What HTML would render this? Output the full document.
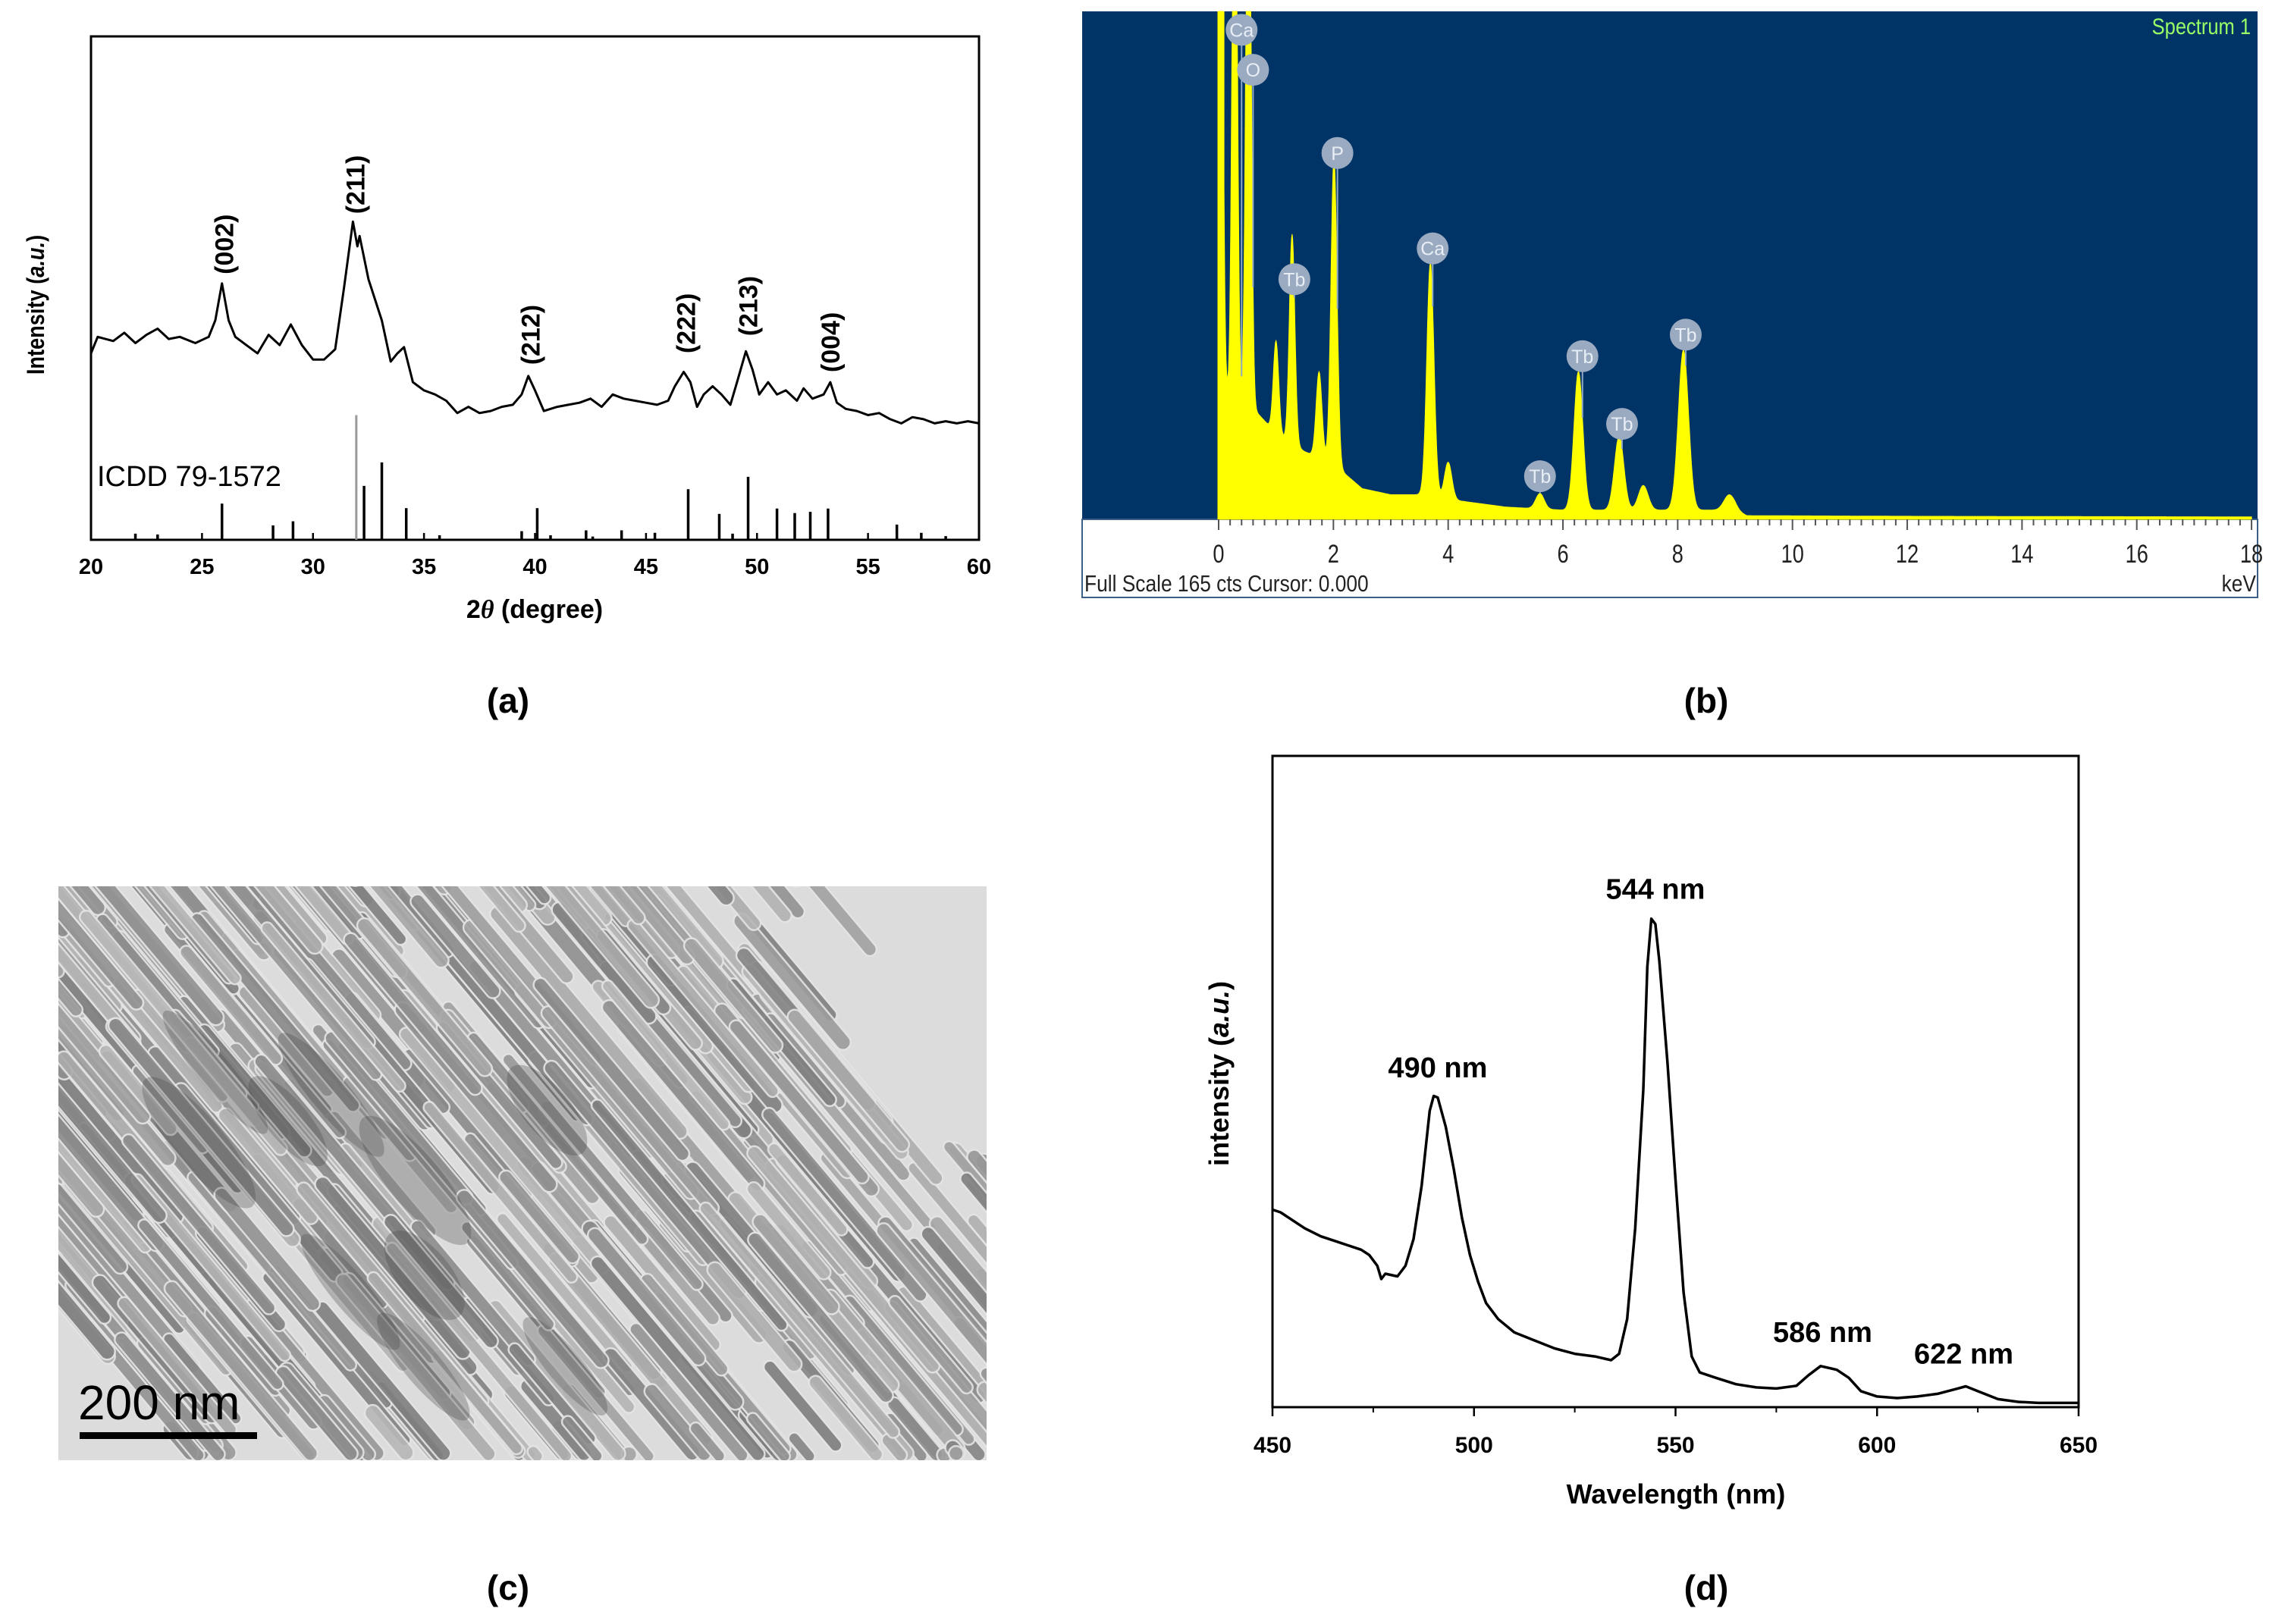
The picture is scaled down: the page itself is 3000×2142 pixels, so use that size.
<!DOCTYPE html>
<html><head><meta charset="utf-8">
<style>
html,body{margin:0;padding:0;background:#fff;overflow:hidden;width:3000px;height:2142px;}
svg{display:block;overflow:hidden;position:absolute;left:0;top:0;}
text{font-family:"Liberation Sans",Arial,sans-serif;}
</style></head>
<body>
<svg id="fig" width="3000" height="2142" viewBox="0 0 3000 2142" overflow="hidden" xmlns="http://www.w3.org/2000/svg">
<rect width="3000" height="2142" fill="#fff"/>
<g id="pa"></g>
<g id="pb"></g>
<g id="pc"></g>
<g id="pd"></g>
<text x="670" y="940" font-size="46" font-weight="bold" text-anchor="middle">(a)</text>
<text x="2250" y="940" font-size="46" font-weight="bold" text-anchor="middle">(b)</text>
<text x="670" y="2110" font-size="46" font-weight="bold" text-anchor="middle">(c)</text>
<text x="2250" y="2110" font-size="46" font-weight="bold" text-anchor="middle">(d)</text>
</svg>
<script>
// ---------- Panel (a) XRD data ----------
const xrdDeg = [20,20.3,21,21.5,22,22.5,23,23.5,24,24.7,25.3,25.6,25.9,26.2,26.5,27,27.5,28,28.5,29,29.5,30,30.5,31,31.4,31.8,32.0,32.1,32.5,32.8,33.1,33.5,33.8,34.1,34.5,35,35.5,36,36.5,37,37.5,38,38.5,39,39.4,39.7,40,40.4,41,41.5,42,42.5,43,43.5,44,44.5,45,45.5,46,46.3,46.7,47,47.3,47.6,48,48.4,48.8,49.1,49.5,49.8,50.1,50.5,50.9,51.3,51.8,52.1,52.5,53,53.3,53.6,54,54.5,55,55.5,56,56.5,57,57.5,58,58.5,59,59.5,60];
const xrdInt = [453,493,483,503,478,498,513,488,493,478,493,533,623,533,493,473,453,498,473,523,473,438,438,463,613,773,713,738,633,583,533,433,453,468,383,363,353,338,308,323,308,313,323,328,353,398,363,313,323,328,333,343,323,353,343,338,333,328,338,373,408,383,323,353,373,353,328,383,458,413,353,383,353,363,338,368,343,353,383,333,318,313,303,308,293,283,298,293,283,288,283,288,283];
const refDeg = [22,23,25.9,28.2,29.1,32.3,33.1,34.2,35.7,39.4,40.1,40.7,42.3,42.6,43.9,45.4,46.9,48.3,48.9,49.6,50.9,51.7,52.4,53.2,56.3,57.4,58.5];
const refInt = [15,13,88,35,45,131,188,77,11,21,77,11,23,8,23,17,123,63,15,153,76,65,68,76,37,17,9];
const refMainDeg = [31.95];
const refMainInt = [303];
const peakLabels = ["(002)","(211)","(212)","(222)","(213)","(004)"];
const peakLabelDeg = [26.0,31.9,39.8,46.8,49.6,53.3];
const peakLabelInt = [718,863,498,526,568,480];
const xrdTicks = [20,25,30,35,40,45,50,55,60];

// ---------- Panel (b) EDS data ----------
const edsPeakKeV = [0.03,0.28,0.52,1.0,1.28,1.75,2.01,3.69,4.0,5.6,6.27,6.98,7.4,8.1,8.9];
const edsPeakCts = [220,220,220,30,68,28,100,76,12,5,45,24,8,52,5];
const edsBgKeV = [0.1,0.6,1.0,1.5,2.0,2.5,3.0,3.5,4.2,5.0,6.0,7.0,8.0,9.0,9.2,12,18];
const edsBgCts = [42,36,28,22,18,10,8,8,6,4,3,3,3,3,1.2,1,0.8];
const edsLabels = ["Ca","O","P","Tb","Ca","Tb","Tb","Tb","Tb"];
const edsLabelKeV = [0.4,0.6,2.07,1.32,3.73,5.6,6.34,7.03,8.14];
const edsLabelCts = [159,146,119,78,88,14,53,31,60];
const edsTicks = [0,2,4,6,8,10,12,14,16,18];

// ---------- Panel (d) PL data ----------
const plNm = [450,452,455,458,462,466,470,472,474,476,477,478,481,483,485,487,489,490,491,493,495,497,499,501,503,506,510,515,520,525,530,534,536,538,540,542,543,544,545,546,548,550,552,554,556,560,565,570,575,580,583,586,590,593,596,600,605,610,615,620,622,625,630,635,640,650];
const plInt = [370,365,350,335,320,310,300,295,285,265,240,250,245,265,315,415,555,583,580,525,445,355,285,235,195,165,140,125,110,100,95,88,100,165,335,595,825,915,905,835,645,425,215,95,65,55,43,37,35,40,60,77,70,55,30,20,17,20,25,35,39,30,15,10,8,8];
const plLabels = ["544 nm","490 nm","586 nm","622 nm"];
const plLabelNm = [545,491,586.5,621.5];
const plLabelInt = [952,618,122,82];
const plTicks = [450,500,550,600,650];
const plMinor = [475,525,575,625];

const NS = "http://www.w3.org/2000/svg";
function mk(parent, tag, attrs, txt){
  const e = document.createElementNS(NS, tag);
  for (const k in attrs) e.setAttribute(k, attrs[k]);
  if (txt !== undefined) e.textContent = txt;
  parent.appendChild(e);
  return e;
}

// ===== Panel A =====
(function(){
  const g = document.getElementById('pa');
  const L=120,R=1291,T=48,B=712;
  const x = d => L + (d-20)/40*(R-L);
  const y = v => B - v/1223*(B-T);
  let el = mk(g,'rect',{x:L,y:T,width:R-L,height:B-T,fill:'none',stroke:'#000','stroke-width':3});
   
  xrdTicks.forEach(t=>{
    let tk = mk(g,'line',{x1:x(t),x2:x(t),y1:B,y2:B-9,stroke:'#000','stroke-width':2.5});
     
    let lb = mk(g,'text',{x:x(t),y:757,'font-size':29,'font-weight':'bold','text-anchor':'middle'},String(t));
     
  });
  let xt = mk(g,'text',{x:705,y:815,'font-size':34,'font-weight':'bold','text-anchor':'middle'});
   
  xt.innerHTML = '2<tspan font-style="italic" font-family="Liberation Serif">θ</tspan> (degree)';
  let yt = mk(g,'text',{x:0,y:0,'font-size':32,'font-weight':'bold','text-anchor':'middle',transform:'translate(58,402) rotate(-90) scale(0.85,1)'});
   
  yt.innerHTML = 'Intensity (<tspan font-style="italic">a.u.</tspan>)';
  let d = xrdDeg.map((v,i)=>(i?'L':'M')+x(v).toFixed(1)+' '+y(xrdInt[i]).toFixed(1)).join(' ');
  let ln = mk(g,'path',{d:d,fill:'none',stroke:'#000','stroke-width':3,'stroke-linejoin':'round'});
   
  refDeg.forEach((v,i)=>{
    let s = mk(g,'line',{x1:x(v),x2:x(v),y1:B,y2:y(refInt[i]),stroke:'#000','stroke-width':3.5});
     
  });
  refMainDeg.forEach((v,i)=>{
    let s = mk(g,'line',{x1:x(v),x2:x(v),y1:B,y2:y(refMainInt[i]),stroke:'#999','stroke-width':3});
     
  });
  let ic = mk(g,'text',{x:128,y:641,'font-size':38},'ICDD 79-1572');
   
  peakLabels.forEach((t,i)=>{
    let p = mk(g,'text',{x:0,y:0,'font-size':34,'text-anchor':'middle','font-weight':'bold',
      transform:`translate(${x(peakLabelDeg[i])+12},${y(peakLabelInt[i])}) rotate(-90)`},t);
     
  });
})();

// ===== Panel B =====
(function(){
  const g = document.getElementById('pb');
  const L=1427,R=2977,T=15,B=685;
  const x = k => 1607 + k*75.67;
  const y = c => B - c/165*(B-T);
  let bgr = mk(g,'rect',{x:L,y:T,width:R-L,height:B-T,fill:'#003366'});
   
  let wr = mk(g,'rect',{x:L,y:B,width:R-L,height:788-B,fill:'#fff',stroke:'#3b5f86','stroke-width':2});
   
  function bg(k){
    if (k<=edsBgKeV[0]) return edsBgCts[0];
    for (let i=1;i<edsBgKeV.length;i++){ if (k<=edsBgKeV[i]){const f=(k-edsBgKeV[i-1])/(edsBgKeV[i]-edsBgKeV[i-1]);return edsBgCts[i-1]+f*(edsBgCts[i]-edsBgCts[i-1]);} }
    return edsBgCts[edsBgCts.length-1];
  }
  function spec(k){
    let s = bg(k);
    edsPeakKeV.forEach((p,i)=>{const w=0.04+0.006*p; s+=edsPeakCts[i]*Math.exp(-((k-p)*(k-p))/(2*w*w));});
    return Math.min(s,170);
  }
  let pts = [`M${x(0)} ${B}`];
  for (let k=0;k<=18.0001;k+=0.01) pts.push(`L${x(k).toFixed(1)} ${Math.max(T,y(spec(k))).toFixed(1)}`);
  pts.push(`L${x(18)} ${B} Z`);
  let sp = mk(g,'path',{d:pts.join(' '),fill:'#ffff00',stroke:'#ffff00','stroke-width':1});
   
  [0,0.08].forEach(k=>{
    let vl = mk(g,'line',{x1:x(k),x2:x(k),y1:T,y2:B,stroke:'#ffff00','stroke-width':3});
     
  });
  edsLabels.forEach((t,i)=>{
    const cx=x(edsLabelKeV[i]), cy=y(edsLabelCts[i]);
    const pk = Math.max(T, y(spec(edsLabelKeV[i])));
    if (pk > cy+20){
      let st = mk(g,'line',{x1:cx,x2:cx,y1:cy+20,y2:pk,stroke:'#8fa8c8','stroke-width':2});
       
    }
    let c = mk(g,'circle',{cx:cx,cy:cy,r:21,fill:'#9aaac0'});
     
    let tx = mk(g,'text',{x:cx,y:cy+9,'font-size':25,'text-anchor':'middle',fill:'#e8eef5'},t);
     
  });
  for (let k=0;k<=18.001;k+=0.2){
    const major = Math.abs(k-Math.round(k/2)*2)<0.01;
    let mt = mk(g,'line',{x1:x(k),x2:x(k),y1:B,y2:B+(major?14:8),stroke:'#555','stroke-width':2});
     
  }
  edsTicks.forEach(t=>{
    let lb = mk(g,'text',{x:0,y:0,'font-size':34,'text-anchor':'middle',fill:'#222',transform:`translate(${x(t)},742) scale(0.8,1)`},String(t));
     
  });
  let fs = mk(g,'text',{x:0,y:0,'font-size':31,fill:'#222',transform:'translate(1430,780) scale(0.85,1)'},'Full Scale 165 cts Cursor: 0.000');
   
  let kv = mk(g,'text',{x:0,y:0,'font-size':31,fill:'#222','text-anchor':'end',transform:'translate(2975,780) scale(0.85,1)'},'keV');
   
  let s1 = mk(g,'text',{x:0,y:0,'font-size':30,fill:'#99ff66','text-anchor':'end',transform:'translate(2968,45) scale(0.85,1)'},'Spectrum 1');
   
})();

// ===== Panel C (TEM micrograph texture) =====
(function(){
  const g = document.getElementById('pc');
  const L=77,T=1169,W=1224,H=757;
  const defs = mk(g,'defs',{});
  const cp = mk(defs,'clipPath',{id:'temclip'});
  mk(cp,'rect',{x:L,y:T,width:W,height:H});
  let bgr = mk(g,'rect',{x:L,y:T,width:W,height:H,fill:'#dcdcdc'});
   
  const gg = mk(g,'g',{'clip-path':'url(#temclip)'});
   
  let seed = 12345;
  const rnd = ()=>{seed=(seed*1103515245+12345)%2147483648;return seed/2147483648;};
  const deg = 50;
  const ang = deg*Math.PI/180, ca=Math.cos(ang), sa=Math.sin(ang);
  const cx0 = L+560, cy0 = T+400;
  const bottom = T+H+8;
  for (let i=0;i<1100;i++){
    const u = (rnd()-0.5)*1900;
    const v = (rnd()-0.5)*1200 - 60;
    const px = cx0 + u*ca - v*sa, py = cy0 + u*sa + v*ca;
    let len = 140 + rnd()*280; const w = 15 + rnd()*6;
    const shade = Math.floor(125 + rnd()*60);
    if (px < L-250 || px > L+W+250 || py < T-250 || py > bottom-12) continue;
    if (px - L > 950 && py - T < 1.0*(px-L-950)+60) continue;
    if (px - L > 1060 && py - T < 430) continue;
    const maxHalf = (bottom - py - w/2)/sa;
    if (len/2 > maxHalf) len = Math.max(2*maxHalf, w);
    const r = mk(gg,'rect',{x:-len/2,y:-w/2,width:len,height:w,rx:w/2,fill:`rgb(${shade},${shade},${shade})`,
      stroke:'#e4e4e4','stroke-width':2.5,opacity:0.9,transform:`translate(${px.toFixed(1)},${py.toFixed(1)}) rotate(${deg})`});
     
  }
  for (let i=0;i<10;i++){
    const px=L+150+rnd()*900, py=T+200+rnd()*450;
    const b = mk(gg,'ellipse',{cx:px,cy:py,rx:70+rnd()*50,ry:20+rnd()*15,fill:'#444',opacity:0.3,transform:`rotate(${deg} ${px} ${py})`});
     
  }
  const sb = mk(g,'rect',{x:105,y:1889,width:234,height:9,fill:'#000'});
   
  const st = mk(g,'text',{x:103,y:1872,'font-size':64,fill:'#000','font-family':'DejaVu Sans'},'200  nm');
   
})();

// ===== Panel D =====
(function(){
  const g = document.getElementById('pd');
  const L=1678,R=2741,T=997,B=1856;
  const x = n => L + (n-450)/200*(R-L);
  const y = v => B - v/1220*(B-T);
  let fr = mk(g,'rect',{x:L,y:T,width:R-L,height:B-T,fill:'none',stroke:'#000','stroke-width':3});
   
  plTicks.forEach(t=>{
    let tk = mk(g,'line',{x1:x(t),x2:x(t),y1:B,y2:B+12,stroke:'#000','stroke-width':2.5});
     
    let lb = mk(g,'text',{x:x(t),y:1916,'font-size':30,'font-weight':'bold','text-anchor':'middle'},String(t));
     
  });
  plMinor.forEach(t=>{
    let tk = mk(g,'line',{x1:x(t),x2:x(t),y1:B,y2:B+7,stroke:'#000','stroke-width':2});
     
  });
  let xt = mk(g,'text',{x:2210,y:1983,'font-size':36,'font-weight':'bold','text-anchor':'middle'},'Wavelength (nm)');
   
  let yt = mk(g,'text',{x:0,y:0,'font-size':36,'font-weight':'bold','text-anchor':'middle',transform:'translate(1620,1416) rotate(-90)'});
   
  yt.innerHTML = 'intensity (<tspan font-style="italic">a.u.</tspan>)';
  let d = plNm.map((v,i)=>(i?'L':'M')+x(v).toFixed(1)+' '+y(plInt[i]).toFixed(1)).join(' ');
  let ln = mk(g,'path',{d:d,fill:'none',stroke:'#000','stroke-width':3.5,'stroke-linejoin':'round'});
   
  plLabels.forEach((t,i)=>{
    let p = mk(g,'text',{x:x(plLabelNm[i]),y:y(plLabelInt[i]),'font-size':38,'font-weight':'bold','text-anchor':'middle'},t);
     
  });
})();
</script>
</body></html>
